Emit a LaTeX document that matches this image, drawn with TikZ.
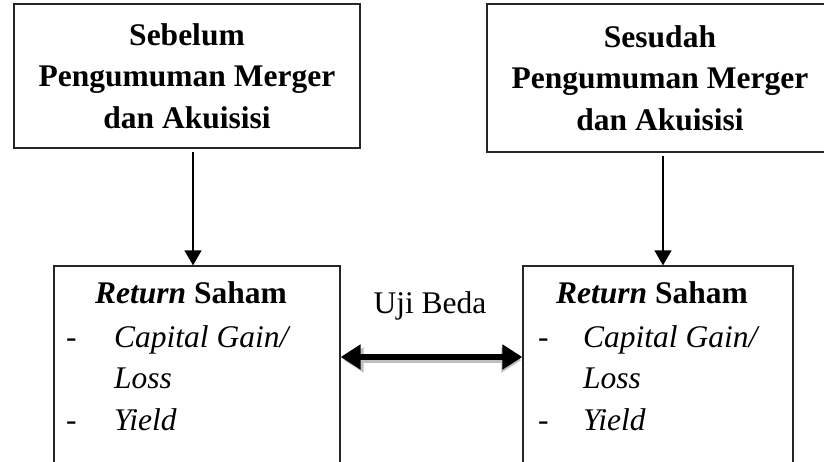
\documentclass[tikz,border=0pt]{standalone}
\usepackage{fontspec}
\setmainfont{Liberation Serif}
\usetikzlibrary{arrows.meta}
\begin{document}
\begin{tikzpicture}[x=1pt,y=-1pt,
  box/.style={draw=black!85,line width=1.3pt,inner sep=0pt,align=center,
    font=\fontsize{31.5}{41.5}\selectfont\bfseries},
  txt/.style={anchor=base west,inner sep=0pt,font=\fontsize{31.5}{41}\selectfont},
  varrow/.style={line width=1.6pt,-{Triangle[width=17pt,length=15pt]}},
]
\useasboundingbox (0,0) rectangle (824,461);
\clip (0,0) rectangle (824,461);
\fill[white] (0,0) rectangle (824,461);
% top boxes
\node[box,minimum width=346pt,minimum height=144pt] (tl) at (187,76)
  {Sebelum\\Pengumuman Merger\\dan Akuisisi};
\node[box,minimum width=346pt,minimum height=148pt] (tr) at (660,78)
  {Sesudah\\Pengumuman Merger\\dan Akuisisi};
% bottom boxes
\node[box,minimum width=286pt,minimum height=214pt] (bl) at (197,373) {};
\node[box,minimum width=270pt,minimum height=214pt] (br) at (658,373) {};
% texts of bottom-left
\node[txt] (blt) at (95,303) {\textbf{\textit{Return} Saham}};
\node[txt] (bld1) at (66,347) {-};
\node[txt] (bli1) at (114,347) {\textit{Capital Gain/}};
\node[txt] (bli2) at (114,388) {\textit{Loss}};
\node[txt] (bld2) at (66,430) {-};
\node[txt] (bli3) at (114,430) {\textit{Yield}};
% texts of bottom-right
\node[txt] (brt) at (556,303) {\textbf{\textit{Return} Saham}};
\node[txt] (brd1) at (538,347) {-};
\node[txt] (bri1) at (583,347) {\textit{Capital Gain/}};
\node[txt] (bri2) at (583,388) {\textit{Loss}};
\node[txt] (brd2) at (538,430) {-};
\node[txt] (bri3) at (583,430) {\textit{Yield}};
% label
\node[inner sep=0pt,anchor=base,font=\fontsize{31.5}{37}\selectfont] (uji) at (430,313) {Uji Beda};
% vertical arrows
\draw[varrow] ([xshift=6pt,yshift=-3pt]tl.south) -- ([xshift=-4pt]bl.north);
\draw[varrow] ([xshift=3pt,yshift=-3pt]tr.south) -- ([xshift=5pt]br.north);
% double arrow with shadow
\draw[line width=6pt,black!25,{Triangle[width=24pt,length=20pt]}-{Triangle[width=24pt,length=20pt]}]
  ([xshift=3pt,yshift=13pt]bl.east) -- ([xshift=-1pt,yshift=13pt]br.west);
\draw[line width=6pt,{Triangle[width=24pt,length=20pt]}-{Triangle[width=24pt,length=20pt]}]
  ([yshift=16pt]bl.east) -- ([yshift=16pt]br.west);
\end{tikzpicture}
\end{document}
